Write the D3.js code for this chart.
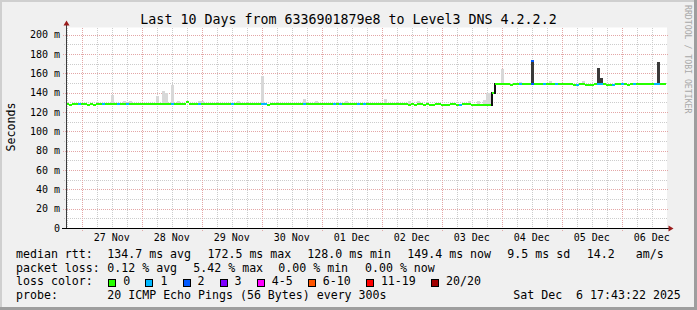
<!DOCTYPE html>
<html><head><meta charset="utf-8">
<script src="https://cdn.jsdelivr.net/npm/d3@7"></script>
<style>
body{margin:0;background:#fff}
svg{display:block}
text{font-family:"DejaVu Sans Mono",monospace;fill:#000}
</style>
</head><body><svg id="c" width="697" height="310"></svg>
<script>
// ---------- data ----------
const chartTitle = "Last 10 Days from 6336901879e8 to Level3 DNS 4.2.2.2";
const yAxisTitle = "Seconds";
const startTime = new Date(2025, 10, 26, 17, 43, 22);
const endTime = new Date(2025, 11, 6, 17, 43, 22);
const stepMinutes = 72;
const yTickValues = [0, 20, 40, 60, 80, 100, 120, 140, 160, 180, 200];
const yTickLabels = ["0", "20 m", "40 m", "60 m", "80 m", "100 m", "120 m", "140 m", "160 m", "180 m", "200 m"];

// median RTT (ms), one value per 72-minute slot
const medianRtt = [
128.5,127.5,128.5,128.5,128.5,128.5,128.5,127.5,128.5,127.5,128.5,128.5,128.5,128.5,128.5,128.5,128.5,128.5,128.5,128.5,
128.5,128.5,128.5,128.5,128.5,128.5,128.5,128.5,128.5,128.5,128.5,128.5,128.5,128.5,128.5,128.5,128.5,128.5,128.5,128.5,
130,128.5,128.5,128.5,128.5,128.5,128.5,128.5,128.5,128.5,128.5,128.5,128.5,128.5,128.5,128.5,128.5,128.5,128.5,128.5,
128.5,128.5,128.5,128.5,128.5,128.5,128.5,127,128.5,128.5,128.5,128.5,128.5,128.5,128.5,128.5,128.5,128.5,128.5,128.5,
128.5,128.5,128.5,128.5,128.5,128.5,128.5,128.5,128.5,128.5,128.5,128.5,128.5,128.5,128.5,128.5,128.5,128.5,128.5,128.5,
128.5,128.5,128.5,128.5,128.5,128.5,128.5,128.5,128.5,128.5,128.5,128.5,128.5,128.5,127.5,128.5,127.5,128.5,128.5,127.5,
128.5,127.5,127.5,128.5,128.5,127.5,127.5,127.5,128.5,128.5,127.5,127.5,128.5,128.5,128.5,127.5,127.5,127.5,127.5,127.5,
127.5,127.5,140,149,149,149,149,149,148,149,149,149,149,149,149,149,149,149,149,149,
149,149,149,149,149,149,149,149,149,148,148,149,149,148,148,148,149,149,149,149,
148,148,148,149,149,149,149,148,149,149,149,149,149,149,149,149,149,149,149,149
];
// number of lost pings (of 20) per slot
const lostPings = [
0,0,0,0,1,0,0,0,0,0,0,0,1,0,0,0,0,1,0,0,
1,0,0,0,0,0,0,0,0,0,0,0,0,0,0,1,0,0,0,0,
0,0,0,0,1,0,0,0,0,0,0,0,0,0,0,1,0,0,0,0,
0,0,0,0,0,1,1,0,0,0,0,0,0,0,0,0,0,0,0,1,
0,0,0,0,0,0,0,0,0,1,0,1,0,0,0,0,0,1,0,1,
0,0,0,0,0,0,0,0,0,0,0,0,0,0,0,0,0,0,0,0,
0,0,0,0,0,0,0,0,0,0,0,1,0,0,0,0,0,0,0,0,
0,0,0,0,0,0,0,0,0,0,0,1,0,0,0,2,0,0,0,1,
0,0,0,1,0,0,0,0,0,0,1,0,0,0,0,0,0,1,1,0,
0,0,1,0,0,1,0,0,0,1,0,0,0,0,0,0,1,1,0,0
];
// light smoke: slot index and highest ping (ms)
const smokeSlots = [15, 19, 21, 30, 32, 33, 35, 37, 44, 45, 57, 65, 79, 83, 93, 106, 114, 117, 134, 137, 139, 140, 141, 145, 151, 161, 172];
const smokeHigh  = [137.5, 131, 131, 137, 142, 140, 148, 131, 131, 131, 131, 157, 133, 131, 131, 133, 131, 131, 131, 131, 132, 140, 140, 164.5, 151, 152, 152];
// dense (dark) smoke: slot index and highest ping (ms)
const darkSlots = [155, 177, 178, 197];
const darkHigh  = [172.5, 165.7, 155, 171.6];
// peak median sample
const peakSlots = [155];
const peakRtt = [172.5];
const peakLost = [2];

const lossLabels = ["0", "1", "2", "3", "4-5", "6-10", "11-19", "20/20"];
const lossColors = ["#26ff00", "#00b8ff", "#0059ff", "#7e00ff", "#ff00ff", "#ff5500", "#ff0000", "#a10000"];
const lossClassOf = [0, 1, 2, 3, 4, 4, 5, 5, 5, 5, 5, 6, 6, 6, 6, 6, 6, 6, 6, 6, 7];

const statRows = [
  {label: "median rtt:", items: [["134.7 ms avg", 107.3], ["172.5 ms max", 207.5], ["128.0 ms min", 307.3], ["149.4 ms now", 407.3], ["9.5 ms sd", 507.3], ["14.2", 586.7], ["am/s", 635.7]]},
  {label: "packet loss:", items: [["0.12 % avg", 107.3], ["5.42 % max", 193.3], ["0.00 % min", 278.3], ["0.00 % now", 365]]}
];
const probeText = "20 ICMP Echo Pings (56 Bytes) every 300s";
const dateText = "Sat Dec  6 17:43:22 2025";

// ---------- drawing ----------
const svg = d3.select("#c");
const W = 697, H = 310;
const L = 66, R = 667, T = 27.5, B = 228;

svg.append("rect").attr("width", W).attr("height", H).attr("fill", "#f0f0f0");
// shade border
svg.append("rect").attr("x", 0).attr("y", 0).attr("width", W).attr("height", 2).attr("fill", "#cfcfcf");
svg.append("rect").attr("x", 0).attr("y", 0).attr("width", 2).attr("height", H).attr("fill", "#cfcfcf");
svg.append("rect").attr("x", 0).attr("y", H - 3).attr("width", W).attr("height", 3).attr("fill", "#9e9e9e");
svg.append("rect").attr("x", W - 3).attr("y", 0).attr("width", 3).attr("height", H).attr("fill", "#9e9e9e");

svg.append("rect").attr("x", L).attr("y", T).attr("width", R - L).attr("height", B - T).attr("fill", "#fff");

const x = d3.scaleTime().domain([startTime, endTime]).range([L, 666]);
const y = d3.scaleLinear().domain([0, 200]).range([B, 34.67]);
const slotTime = i => d3.timeMinute.offset(startTime, i * stepMinutes);

const grid = svg.append("g").attr("shape-rendering", "crispEdges");
// horizontal grid
d3.range(10, 210, 10).forEach(v => {
  const major = v % 20 === 0;
  const yy = Math.round(y(v)) + 0.5;
  grid.append("line").attr("x1", major ? 63 : 64).attr("x2", major ? 669 : R)
    .attr("y1", yy).attr("y2", yy)
    .attr("stroke", major ? "#e3a6a6" : "#cccccc").attr("stroke-dasharray", "1,1");
});
// vertical grid
d3.timeHour.every(6).range(startTime, endTime).forEach(t => {
  const major = t.getHours() === 0;
  const xx = Math.round(x(t)) + 0.5;
  grid.append("line").attr("x1", xx).attr("x2", xx).attr("y1", T).attr("y2", major ? 231 : B)
    .attr("stroke", major ? "#e3a6a6" : "#cccccc").attr("stroke-dasharray", "1,1");
});

const marks = svg.append("g").attr("shape-rendering", "crispEdges");
// light smoke
smokeSlots.forEach((s, k) => {
  marks.append("rect").attr("x", x(slotTime(s))).attr("width", x(slotTime(s + 1)) - x(slotTime(s)))
    .attr("y", y(smokeHigh[k])).attr("height", y(medianRtt[s]) - y(smokeHigh[k]))
    .attr("fill", "#d8d8d8");
});
// dark smoke
darkSlots.forEach((s, k) => {
  marks.append("rect").attr("x", x(slotTime(s))).attr("width", x(slotTime(s + 1)) - x(slotTime(s)))
    .attr("y", y(darkHigh[k])).attr("height", y(medianRtt[s]) - y(darkHigh[k]))
    .attr("fill", "#3a3a3a");
});
// median line coloured by loss
medianRtt.forEach((v, i) => {
  const x0 = x(slotTime(i)), x1 = x(slotTime(i + 1));
  if (i > 0 && Math.abs(v - medianRtt[i - 1]) > 3) {
    marks.append("rect").attr("x", x0 - 1).attr("width", 1.5)
      .attr("y", Math.min(y(v), y(medianRtt[i - 1])) - 1)
      .attr("height", Math.abs(y(v) - y(medianRtt[i - 1])) + 2).attr("fill", "#111");
  }
  marks.append("rect").attr("x", x0).attr("width", x1 - x0)
    .attr("y", y(v) - 1).attr("height", 2)
    .attr("fill", lossColors[lossClassOf[lostPings[i]]]);
});
peakSlots.forEach((s, k) => {
  marks.append("rect").attr("x", x(slotTime(s))).attr("width", x(slotTime(s + 1)) - x(slotTime(s)))
    .attr("y", y(peakRtt[k]) - 1).attr("height", 2)
    .attr("fill", lossColors[lossClassOf[peakLost[k]]]);
});

// axes
const ax = svg.append("g");
ax.append("line").attr("x1", 66.5).attr("x2", 66.5).attr("y1", 228).attr("y2", 24).attr("stroke", "#3c3c3c").attr("stroke-width", 1);
ax.append("line").attr("x1", 62).attr("x2", 669).attr("y1", 228.5).attr("y2", 228.5).attr("stroke", "#000").attr("stroke-width", 1);
ax.append("path").attr("d", "M63.5,25.5 L66.5,20.5 L69.5,25.5 Z").attr("fill", "#9a1c1c");
ax.append("path").attr("d", "M668.5,225.5 L673.5,228.5 L668.5,231.5 Z").attr("fill", "#9a1c1c");

// y labels
yTickValues.forEach((v, k) => {
  svg.append("text").attr("x", 60).attr("y", y(v) + 3.5).attr("text-anchor", "end")
    .attr("font-size", "10px").attr("xml:space", "preserve").text(yTickLabels[k]);
});
// x labels at noon
d3.timeDay.range(startTime, endTime).forEach(d => {
  const noon = d3.timeHour.offset(d, 12);
  if (noon < startTime || noon > endTime) return;
  svg.append("text").attr("x", x(noon)).attr("y", 241).attr("text-anchor", "middle")
    .attr("font-size", "10px").text(d3.timeFormat("%d %b")(noon));
});

svg.append("text").attr("x", 348.5).attr("y", 24).attr("text-anchor", "middle")
  .attr("font-size", "13.3px").text(chartTitle);
svg.append("text").attr("transform", "translate(14.5,127) rotate(-90)").attr("text-anchor", "middle")
  .attr("font-size", "11.6px").text(yAxisTitle);
svg.append("text").attr("transform", "translate(685,5) rotate(90)")
  .attr("font-size", "8.2px").style("fill", "#a8a8a8").text("RRDTOOL / TOBI OETIKER");

// legend
const fs = "11.6px", cw = 7.0;
const rowsY = [258, 271.7, 285.4, 299];
statRows.forEach((r, k) => {
  svg.append("text").attr("x", 16).attr("y", rowsY[k]).attr("font-size", fs).text(r.label);
  r.items.forEach(([t, px]) => svg.append("text").attr("x", px).attr("y", rowsY[k]).attr("font-size", fs)
    .attr("xml:space", "preserve").text(t));
});
svg.append("text").attr("x", 16).attr("y", rowsY[2]).attr("font-size", fs).text("loss color:");
let bx = 108.3;
lossLabels.forEach((lab, k) => {
  svg.append("rect").attr("x", Math.round(bx) + 0.5).attr("y", 279.5).attr("width", 7).attr("height", 7)
    .attr("fill", lossColors[k]).attr("stroke", "#000").attr("stroke-width", 1);
  svg.append("text").attr("x", bx + 15).attr("y", rowsY[2]).attr("font-size", fs).text(lab);
  bx = bx + 15 + lab.length * cw + 15.1;
});
svg.append("text").attr("x", 16).attr("y", rowsY[3]).attr("font-size", fs).text("probe:");
svg.append("text").attr("x", 107.3).attr("y", rowsY[3]).attr("font-size", fs).text(probeText);
svg.append("text").attr("x", 513.3).attr("y", rowsY[3]).attr("font-size", fs).attr("xml:space", "preserve").text(dateText);
</script>
</body></html>
